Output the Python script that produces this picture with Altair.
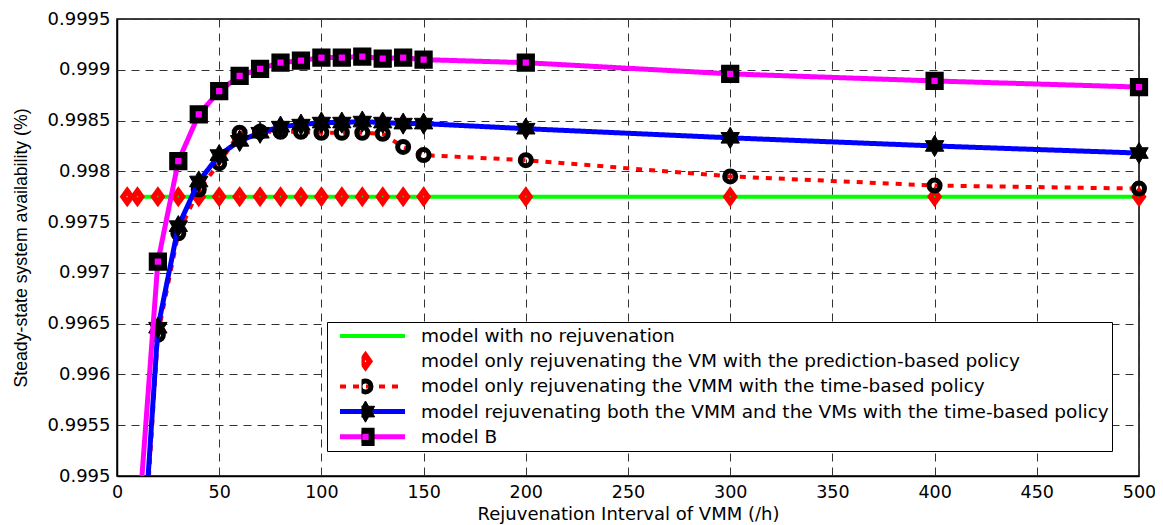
import math
import altair as alt
import pandas as pd

# ---------------- data ----------------
L_NONE = "model with no rejuvenation"
L_VM = "model only rejuvenating the VM with the prediction-based policy"
L_VMM = "model only rejuvenating the VMM with the time-based policy"
L_BOTH = "model rejuvenating both the VMM and the VMs with the time-based policy"
L_B = "model B"
line_labels = [L_NONE, L_VM, L_VMM, L_BOTH, L_B]
marker_labels = [L_VM, L_VMM, L_BOTH, L_B]

x_flat = [5, 10, 20, 30, 40, 50, 60, 70, 80, 90, 100, 110, 120, 130, 140, 150, 200, 300, 400, 500]
y_none = [0.99775, 0.99775, 0.99775, 0.99775, 0.99775, 0.99775, 0.99775, 0.99775, 0.99775, 0.99775,
          0.99775, 0.99775, 0.99775, 0.99775, 0.99775, 0.99775, 0.99775, 0.99775, 0.99775, 0.99775]
y_vm = [0.99775, 0.99775, 0.99775, 0.99775, 0.99775, 0.99775, 0.99775, 0.99775, 0.99775, 0.99775,
        0.99775, 0.99775, 0.99775, 0.99775, 0.99775, 0.99775, 0.99775, 0.99775, 0.99775, 0.99775]

x_curve = [10, 20, 30, 40, 50, 60, 70, 80, 90, 100, 110, 120, 130, 140, 150, 200, 300, 400, 500]
y_vmm = [0.9932, 0.99639, 0.99739, 0.99782, 0.99808, 0.99838, 0.99839, 0.99839, 0.99839, 0.99838,
         0.99838, 0.99838, 0.99837, 0.99824, 0.99816, 0.99811, 0.99795, 0.99786, 0.99783]
y_both = [0.9934, 0.99646, 0.99746, 0.99790, 0.99816, 0.99830, 0.99838, 0.99844, 0.99846, 0.99848,
          0.99848, 0.99849, 0.99848, 0.99847, 0.99847, 0.99842, 0.99833, 0.99825, 0.99818]
y_modelb = [0.9944, 0.99711, 0.99810, 0.99856, 0.99879, 0.99894, 0.99901, 0.99907, 0.99909, 0.99912,
            0.99912, 0.99913, 0.99911, 0.99912, 0.99910, 0.99907, 0.99896, 0.99889, 0.99883]

x_ticks = [0, 50, 100, 150, 200, 250, 300, 350, 400, 450, 500]
y_ticks = [0.995, 0.9955, 0.996, 0.9965, 0.997, 0.9975, 0.998, 0.9985, 0.999, 0.9995]

rows = []
for lab, xs, ys in [(L_NONE, x_flat, y_none), (L_VM, x_flat, y_vm), (L_VMM, x_curve, y_vmm),
                    (L_BOTH, x_curve, y_both), (L_B, x_curve, y_modelb)]:
    for xv, yv in zip(xs, ys):
        rows.append({"series": lab, "mseries": lab, "x": xv, "y": yv})
df = pd.DataFrame(rows)

# ---------------- styles ----------------
pts = []
for k in range(12):
    ang = math.radians(-90 + 30 * k)
    r = 1.0 if k % 2 == 0 else 1 / math.sqrt(3)
    pts.append(f"{r * math.cos(ang):.3f},{r * math.sin(ang):.3f}")
HEXAGRAM = "M" + "L".join(pts) + "Z"
DIAMOND = "M0,-1L0.72,0L0,1L-0.72,0Z"

color_scale = alt.Scale(domain=line_labels, range=["#00ff00", "transparent", "#ff0000", "#0000ff", "#ff00ff"])
dash_scale = alt.Scale(domain=line_labels, range=[[1, 0], [1, 0], [6, 7], [1, 0], [1, 0]])
width_scale = alt.Scale(type="ordinal", domain=line_labels, range=[4, 0, 4, 5, 5])

shape_scale = alt.Scale(domain=marker_labels, range=[DIAMOND, "circle", HEXAGRAM, "square"])
fill_scale = alt.Scale(domain=marker_labels, range=["transparent", "transparent", "black", "#ff00ff"])
stroke_scale = alt.Scale(domain=marker_labels, range=["#ff0000", "black", "black", "black"])
size_scale = alt.Scale(type="ordinal", domain=marker_labels, range=[135, 121, 450, 150])
marker_sw = {L_VM: 5.5, L_VMM: 5, L_BOTH: 1, L_B: 6}

sw_expr = (f"datum.value === '{L_B}' ? 6 : datum.value === '{L_BOTH}' ? 1 : "
           f"datum.value === '{L_VMM}' ? 5 : 5.5")

leg_line = alt.Legend(
    title=None, orient="none", legendX=210, legendY=303, direction="vertical",
    padding=2.5, fillColor="white", strokeColor="black",
    symbolType="stroke", symbolSize=4225, symbolOffset=8, labelOffset=13.5,
    labelFont="DejaVu Sans", labelFontSize=18.5, labelColor="black", labelLimit=2000,
    clipHeight=23, rowPadding=2.2,
)
leg_mark = alt.Legend(
    title=None, orient="none", legendX=244.5, legendY=330.7, direction="vertical",
    padding=0, symbolOffset=0, labelOpacity=0, labelFontSize=8, labelLimit=10,
    clipHeight=23, rowPadding=2.2,
    symbolStrokeWidth=alt.ExprRef(sw_expr),
)

x_enc = alt.X("x:Q", scale=alt.Scale(domain=[0, 500], nice=False, zero=False),
              axis=alt.Axis(values=x_ticks, title="Rejuvenation Interval of VMM (/h)"))
y_enc = alt.Y("y:Q", scale=alt.Scale(domain=[0.995, 0.9995], nice=False, zero=False),
              axis=alt.Axis(values=y_ticks, format=".4~f", title="Steady-state system availability (%)"))

base = alt.Chart(df)


def line_layer(lab):
    return base.transform_filter(alt.datum.series == lab).mark_line(clip=True).encode(
        x=x_enc, y=y_enc,
        color=alt.Color("series:N", scale=color_scale, legend=leg_line),
        strokeDash=alt.StrokeDash("series:N", scale=dash_scale, legend=leg_line),
        strokeWidth=alt.StrokeWidth("series:N", scale=width_scale, legend=leg_line),
    )


def marker_layer(lab):
    return base.transform_filter(alt.datum.mseries == lab).transform_filter(
        alt.datum.y >= 0.995
    ).mark_point(opacity=1).encode(
        x=x_enc, y=y_enc,
        shape=alt.Shape("mseries:N", scale=shape_scale, legend=leg_mark),
        fill=alt.Fill("mseries:N", scale=fill_scale, legend=leg_mark),
        stroke=alt.Stroke("mseries:N", scale=stroke_scale, legend=leg_mark),
        size=alt.Size("mseries:N", scale=size_scale, legend=leg_mark),
        strokeWidth=alt.value(marker_sw[lab]),
    )


chart = alt.layer(
    line_layer(L_NONE),
    marker_layer(L_VM),
    line_layer(L_VMM),
    marker_layer(L_VMM),
    line_layer(L_BOTH),
    marker_layer(L_BOTH),
    line_layer(L_B),
    marker_layer(L_B),
).properties(
    width=1022, height=457,
    padding={"left": 109, "top": 11, "right": 16, "bottom": 49},
    autosize=alt.AutoSizeParams(type="none"),
).configure_view(
    stroke="black", strokeWidth=1.5
).configure_axis(
    grid=True, gridColor="#333333", gridDash=[8, 6], gridWidth=1, gridOpacity=1,
    domainColor="black", domainWidth=1.5, ticks=False, tickSize=0,
    labelFont="DejaVu Sans", labelFontSize=18, labelColor="black",
    labelFlush=False, labelOverlap=False,
    titleColor="black", titleFontWeight="normal",
).configure_axisX(
    labelPadding=7.5, labelFontSize=17.5, titleFont="DejaVu Sans", titleFontSize=18, titlePadding=4,
).configure_axisY(
    labelPadding=7, titleFont="Liberation Sans", titleFontSize=17.7, titlePadding=17,
)

chart.save("out.html", embed_options={"renderer": "svg", "actions": False})
